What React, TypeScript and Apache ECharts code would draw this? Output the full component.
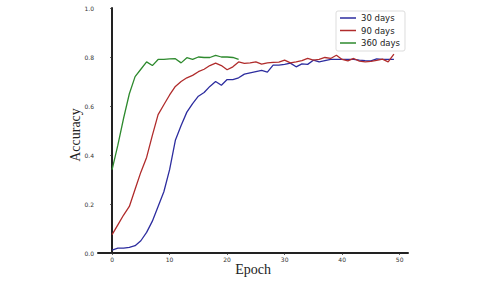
import React, { useEffect, useRef } from "react";
import * as echarts from "echarts";

const epochTicks = [0, 10, 20, 30, 40, 50];
const seriesNames = ["30 days", "90 days", "360 days"];

const acc30 = [
  0.012, 0.02, 0.02, 0.023, 0.03, 0.05, 0.084, 0.13, 0.19, 0.25,
  0.34, 0.46, 0.52, 0.575, 0.61, 0.64, 0.655, 0.68, 0.70, 0.685,
  0.708, 0.708, 0.715, 0.73, 0.735, 0.74, 0.745, 0.738, 0.767, 0.767,
  0.77, 0.775, 0.76, 0.772, 0.77, 0.787, 0.78, 0.785, 0.79, 0.79,
  0.79, 0.79, 0.79, 0.787, 0.785, 0.784, 0.792, 0.79, 0.79, 0.79,
];
const acc90 = [
  0.075, 0.115, 0.155, 0.19, 0.26, 0.33, 0.39, 0.48, 0.565, 0.605,
  0.645, 0.68, 0.70, 0.715, 0.725, 0.74, 0.75, 0.765, 0.775, 0.765,
  0.748, 0.76, 0.78, 0.774, 0.776, 0.78, 0.771, 0.776, 0.778, 0.779,
  0.787, 0.776, 0.78, 0.785, 0.794, 0.787, 0.79, 0.798, 0.794, 0.807,
  0.79, 0.784, 0.794, 0.783, 0.78, 0.782, 0.786, 0.791, 0.78, 0.812,
];
const acc360 = [
  0.34, 0.44, 0.55, 0.65, 0.72, 0.75, 0.78, 0.765, 0.79, 0.79,
  0.792, 0.793, 0.776, 0.797, 0.79, 0.80, 0.798, 0.798, 0.807, 0.80,
  0.80, 0.798, 0.79,
];

const colors = ["#2d2d9f", "#b02c2c", "#2e8a2e"];

export default function App() {
  const ref = useRef<HTMLDivElement>(null);
  useEffect(() => {
    if (!ref.current) return;
    const chart = echarts.init(ref.current, null, { renderer: "svg" });
    const all = [acc30, acc90, acc360];
    chart.setOption({
      animation: false,
      backgroundColor: "#ffffff",
      grid: { left: 98, right: 72, top: 8, bottom: 30 },
      legend: {
        orient: "vertical",
        left: 336,
        top: 11,
        data: seriesNames,
        icon: "rect",
        itemWidth: 16,
        itemHeight: 1.5,
        itemGap: 2.5,
        padding: [2, 5, 3, 4],
        borderColor: "#dddddd",
        borderWidth: 1,
        borderRadius: 2,
        textStyle: {
          fontFamily: "DejaVu Sans",
          fontSize: 8.5,
          color: "#222",
          lineHeight: 10,
        },
      },
      xAxis: {
        type: "value",
        min: -2.45,
        max: 51.45,
        splitLine: { show: false },
        axisLine: { lineStyle: { color: "#222", width: 2 } },
        axisTick: {
          show: true,
          length: 2,
          customValues: epochTicks,
          lineStyle: { color: "#333", width: 0.8 },
        },
        axisLabel: {
          customValues: epochTicks,
          fontFamily: "DejaVu Sans",
          fontSize: 6,
          color: "#333",
          margin: 3,
        },
      },
      yAxis: {
        type: "value",
        min: 0,
        max: 1,
        interval: 0.2,
        splitLine: { show: false },
        axisLine: { show: true, lineStyle: { color: "#222", width: 2 } },
        axisTick: { show: true, length: 2, lineStyle: { color: "#333", width: 0.8 } },
        axisLabel: {
          fontFamily: "DejaVu Sans",
          fontSize: 6,
          color: "#333",
          margin: 4,
          formatter: (v: number) => v.toFixed(1),
        },
      },
      graphic: [
        {
          type: "text",
          x: 75,
          y: 135,
          rotation: Math.PI / 2,
          style: {
            text: "Accuracy",
            fontFamily: "Liberation Serif",
            fontSize: 14,
            fill: "#222",
            textAlign: "center",
            textVerticalAlign: "middle",
          },
        },
        {
          type: "text",
          x: 253,
          y: 269.5,
          style: {
            text: "Epoch",
            fontFamily: "Liberation Serif",
            fontSize: 14,
            fill: "#222",
            textAlign: "center",
            textVerticalAlign: "middle",
          },
        },
      ],
      series: seriesNames.map((name, k) => ({
        name,
        type: "line",
        showSymbol: false,
        symbol: "none",
        color: colors[k],
        lineStyle: { width: 1.3, color: colors[k] },
        data: all[k].map((v, i) => [i, v]),
      })),
    });
    return () => chart.dispose();
  }, []);
  return (
    <div
      ref={ref}
      style={{ position: "fixed", left: 0, top: 0, width: 480, height: 283 }}
    />
  );
}
